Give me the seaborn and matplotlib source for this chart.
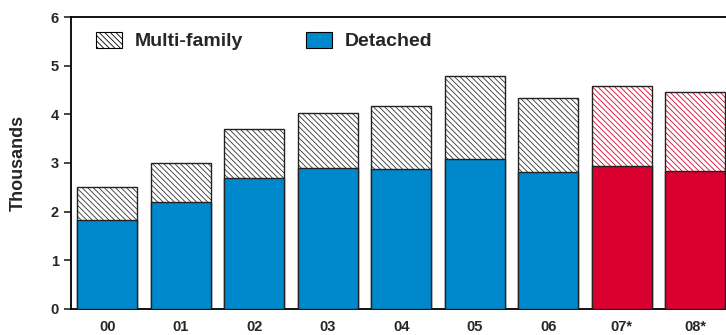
import matplotlib
matplotlib.use("Agg")
import matplotlib.pyplot as plt
import matplotlib.patches as mpatches
import pandas as pd
import seaborn as sns

years = ["00", "01", "02", "03", "04", "05", "06", "07*", "08*"]
total = [2.51, 3.00, 3.69, 4.03, 4.17, 4.79, 4.33, 4.59, 4.46]
detached = [1.83, 2.19, 2.70, 2.89, 2.87, 3.09, 2.82, 2.94, 2.84]
forecast = [False, False, False, False, False, False, False, True, True]

BLUE = "#0088cc"
RED = "#d90030"
HATCH = "\\" * 6

sns.set_style("white")
plt.rcParams["font.family"] = ["Liberation Sans", "DejaVu Sans"]
plt.rcParams["hatch.linewidth"] = 0.6

df = pd.DataFrame({"year": years, "total": total, "detached": detached})

fig = plt.figure(figsize=(7.26, 3.35), dpi=100)
ax = fig.add_axes([0.098, 0.078, 0.902, 0.871])

# multi-family stacked on top: draw totals hatched, then detached over them
sns.barplot(data=df, x="year", y="total", color="white", width=0.82,
            ax=ax, zorder=2)
n = len(years)
for p, fc in zip(ax.patches[:n], forecast):
    hc = RED if fc else "#333333"
    p.set_facecolor("white")
    p.set_edgecolor(hc)
    p.set_hatch(HATCH)
    p.set_linewidth(0)
    ax.add_patch(mpatches.Rectangle((p.get_x(), p.get_y()), p.get_width(),
                                    p.get_height(), fill=False,
                                    edgecolor="#222222", linewidth=1.0,
                                    zorder=3))

sns.barplot(data=df, x="year", y="detached", color=BLUE, width=0.82,
            ax=ax, zorder=4)
for p, fc in zip(ax.patches[-n:], forecast):
    p.set_facecolor(RED if fc else BLUE)
    p.set_edgecolor("#222222")
    p.set_linewidth(1.0)

ax.set_ylim(0, 6)
ax.set_xlim(-0.49, 8.42)
ax.set_yticks(range(7))
ax.set_xlabel("")
ax.set_ylabel("Thousands", fontsize=13, fontweight="bold", labelpad=17)
ax.tick_params(axis="y", direction="out", length=5, width=1.2, left=True,
               labelsize=10.5, pad=4)
ax.tick_params(axis="x", length=0, labelsize=10.5, pad=8)
for lbl in ax.get_xticklabels() + ax.get_yticklabels():
    lbl.set_fontweight("bold")

for s in ["left", "top", "bottom"]:
    ax.spines[s].set_visible(True)
    ax.spines[s].set_color("black")
    ax.spines[s].set_linewidth(1.3)
ax.spines["right"].set_visible(False)

# legend
mf_patch = mpatches.Patch(facecolor="white", edgecolor="black",
                          hatch=HATCH, linewidth=0.8, label="Multi-family")
det_patch = mpatches.Patch(facecolor=BLUE, edgecolor="black", linewidth=0.8,
                           label="Detached")
ax.legend(handles=[mf_patch, det_patch], ncol=2, loc="center left",
          bbox_to_anchor=(0.038, 0.918), frameon=False, borderpad=0,
          borderaxespad=0, prop={"weight": "bold", "size": 14},
          handlelength=1.34, handleheight=0.93, columnspacing=3.2,
          handletextpad=0.67)

fig.savefig("out.png", dpi=100)
